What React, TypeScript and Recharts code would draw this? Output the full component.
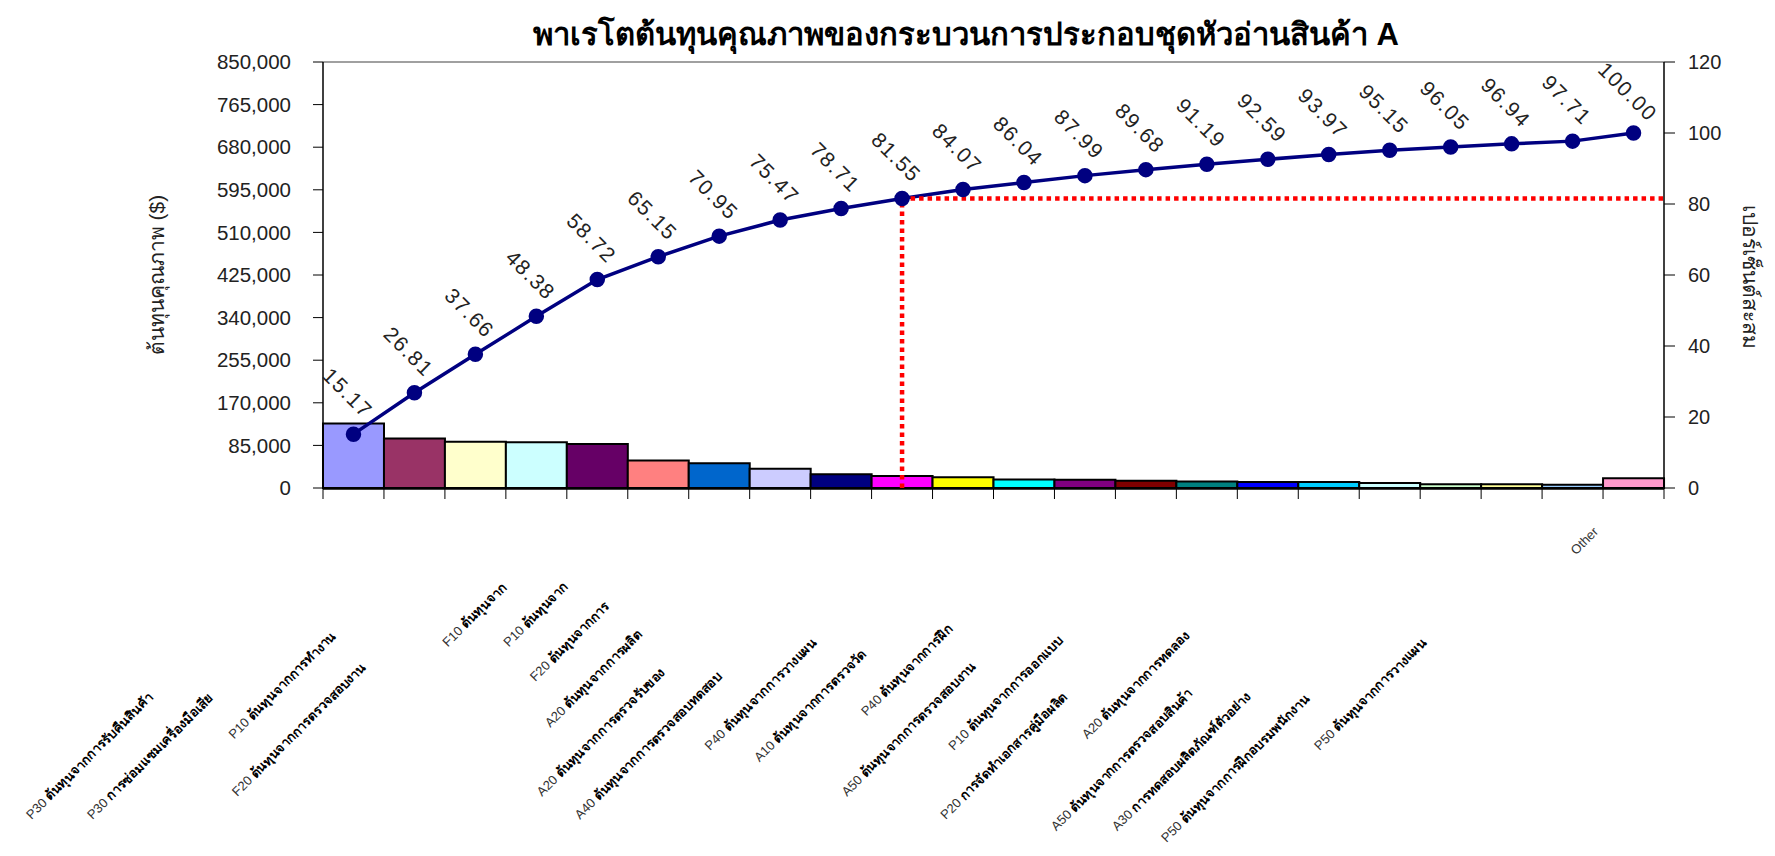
import React from "react";
import { ComposedChart, Bar, Line, XAxis, YAxis, Cell, LabelList, ReferenceLine } from "recharts";

// Cost items, sorted by cost (Pareto order)
const categories = [
  "P30 ต้นทุนจากการรับคืนสินค้า",
  "P30 การซ่อมแซมเครื่องมือเสีย",
  "P10 ต้นทุนจากการทำงาน",
  "F20 ต้นทุนจากการตรวจสอบงาน",
  "F10 ต้นทุนจาก",
  "P10 ต้นทุนจาก",
  "F20 ต้นทุนจากการ",
  "A20 ต้นทุนจากการผลิต",
  "A20 ต้นทุนจากการตรวจรับของ",
  "A40 ต้นทุนจากการตรวจสอบทดสอบ",
  "P40 ต้นทุนจากการวางแผน",
  "A10 ต้นทุนจากการตรวจวัด",
  "P40 ต้นทุนจากการฝึก",
  "A50 ต้นทุนจากการตรวจสอบงาน",
  "P10 ต้นทุนจากการออกแบบ",
  "P20 การจัดทำเอกสารคู่มือผลิต",
  "A20 ต้นทุนจากการทดลอง",
  "A50 ต้นทุนจากการตรวจสอบสินค้า",
  "A30 การทดสอบผลิตภัณฑ์ตัวอย่าง",
  "P50 ต้นทุนจากการฝึกอบรมพนักงาน",
  "P50 ต้นทุนจากการวางแผน",
  "Other",
];

const costs = [
  128945, 98940, 92225, 91120, 87890, 54655, 49300, 38420, 27540, 24140, 21420,
  16745, 16575, 14365, 12835, 11900, 11730, 10030, 7650, 7565, 6545, 19465,
];

const cumPercent = [
  15.17, 26.81, 37.66, 48.38, 58.72, 65.15, 70.95, 75.47, 78.71, 81.55, 84.07,
  86.04, 87.99, 89.68, 91.19, 92.59, 93.97, 95.15, 96.05, 96.94, 97.71, 100.0,
];

const barColors = [
  "#9999FF", "#993366", "#FFFFCC", "#CCFFFF", "#660066", "#FF8080", "#0066CC",
  "#CCCCFF", "#000080", "#FF00FF", "#FFFF00", "#00FFFF", "#800080", "#800000",
  "#008080", "#0000FF", "#00CCFF", "#CCFFFF", "#CCFFCC", "#FFFF99", "#99CCFF",
  "#FF99CC",
];

const leftTicks = [0, 85000, 170000, 255000, 340000, 425000, 510000, 595000, 680000, 765000, 850000];
const rightTicks = [0, 20, 40, 60, 80, 100, 120];

const title = "พาเรโตต้นทุนคุณภาพของกระบวนการประกอบชุดหัวอ่านสินค้า A";
const leftTitle = "ต้นทุนคุณภาพ ($)";
const rightTitle = "เปอร์เซ็นต์สะสม";

// the 80% cut-off is drawn at the 10th item
const cutoffIndex = 9;

// pos = bar centre on a plain numeric scale (used for the boundary ticks and the cut-off lines)
const data = categories.map((name, i) => ({ name, pos: i + 0.5, cost: costs[i], pct: cumPercent[i] }));
const boundaryTicks = categories.map((_, i) => i).concat(categories.length);

const W = 1759;
const H = 840;
const FONT = "'Liberation Sans', Arial, 'Noto Sans', sans-serif";

const fmt = (v: number) => v.toLocaleString("en-US");

// Excel pushes rotated labels out by their (over-)measured length
function CategoryTick(props: any) {
  const { x, y, payload } = props;
  const text = String(payload.value);
  const sp = text.indexOf(" ");
  const code = sp > 0 ? text.slice(0, sp) : text;
  const rest = sp > 0 ? text.slice(sp) : "";
  const d = text.length * 11.5;
  const sx = x - d;
  const sy = y + d;
  return (
    <text
      x={sx}
      y={sy}
      transform={`rotate(-45 ${sx} ${sy})`}
      fontSize={13}
      fill="#000"
      fontFamily={FONT}
    >
      <tspan fill="#333">{code}</tspan>
      <tspan fontWeight="bold">{rest}</tspan>
    </text>
  );
}

function PctLabel(props: any) {
  const { x, y, value } = props;
  const lx = x - 7;
  const ly = y - 40;
  return (
    <text
      x={lx}
      y={ly}
      transform={`rotate(45 ${lx} ${ly})`}
      textAnchor="middle"
      dominantBaseline="middle"
      fontSize={21}
      letterSpacing={1.5}
      fill="#222"
      fontFamily={FONT}
    >
      {Number(value).toFixed(2)}
    </text>
  );
}

export default function App() {
  return (
    <div style={{ position: "relative", width: W, height: H, fontFamily: FONT }}>
      <ComposedChart
        width={W}
        height={H}
        data={data}
        barCategoryGap={0}
        margin={{ top: 54, right: 43, bottom: 349, left: 215 }}
      >
        <XAxis
          dataKey="name"
          interval={0}
          height={1}
          axisLine={false}
          tickLine={false}
          tickSize={0}
          tickMargin={10}
          tick={<CategoryTick />}
        />
        <XAxis
          xAxisId="num"
          dataKey="pos"
          type="number"
          domain={[0, categories.length]}
          allowDataOverflow
          ticks={boundaryTicks}
          tick={() => <g />}
          tickSize={10}
          height={10}
          axisLine={{ stroke: "#000", strokeWidth: 1.5 }}
          tickLine={{ stroke: "#000" }}
        />
        <YAxis
          yAxisId="left"
          domain={[0, 850000]}
          ticks={leftTicks}
          tickFormatter={fmt}
          width={100}
          tickSize={10}
          tickMargin={22}
          axisLine={{ stroke: "#000", strokeWidth: 1.5 }}
          tickLine={{ stroke: "#000" }}
          tick={{ fontSize: 20.5, fill: "#222", fontFamily: FONT }}
        />
        <YAxis
          yAxisId="right"
          orientation="right"
          domain={[0, 120]}
          ticks={rightTicks}
          width={60}
          tickSize={11}
          tickMargin={13}
          axisLine={{ stroke: "#000", strokeWidth: 1.5 }}
          tickLine={{ stroke: "#000" }}
          tick={{ fontSize: 20, fill: "#222", fontFamily: FONT }}
        />
        <ReferenceLine yAxisId="left" y={850000} stroke="#808080" strokeWidth={1.5} />
        <Bar dataKey="cost" yAxisId="left" stroke="#000" strokeWidth={2} isAnimationActive={false}>
          {data.map((_, i) => (
            <Cell key={i} fill={barColors[i]} />
          ))}
        </Bar>
        <Line
          dataKey="pct"
          yAxisId="right"
          stroke="#000080"
          strokeWidth={3.5}
          dot={{ r: 6, fill: "#000080", stroke: "#000080" }}
          isAnimationActive={false}
        >
          <LabelList dataKey="pct" content={<PctLabel />} />
        </Line>
        <ReferenceLine
          xAxisId="num"
          yAxisId="right"
          ifOverflow="visible"
          segment={[
            { x: data[cutoffIndex].pos, y: 0 },
            { x: data[cutoffIndex].pos, y: cumPercent[cutoffIndex] },
          ]}
          stroke="#FF0000"
          strokeWidth={4.5}
          strokeDasharray="4.5 4"
        />
        <ReferenceLine
          xAxisId="num"
          yAxisId="right"
          ifOverflow="visible"
          segment={[
            { x: data[cutoffIndex].pos, y: cumPercent[cutoffIndex] },
            { x: categories.length, y: cumPercent[cutoffIndex] },
          ]}
          stroke="#FF0000"
          strokeWidth={4.5}
          strokeDasharray="4.5 4"
        />
      </ComposedChart>
      <svg
        width={W}
        height={H}
        style={{ position: "absolute", left: 0, top: 0, pointerEvents: "none" }}
      >
        <text x={958} y={37} textAnchor="middle" fontSize={31} fontWeight="bold" fill="#000" fontFamily={FONT}>
          {title}
        </text>
        <text
          x={150}
          y={267}
          transform="rotate(-90 150 267)"
          textAnchor="middle"
          dominantBaseline="middle"
          fontSize={21}
          fill="#222"
          fontFamily={FONT}
        >
          {leftTitle}
        </text>
        <text
          x={1741}
          y={269}
          transform="rotate(90 1741 269)"
          textAnchor="middle"
          dominantBaseline="middle"
          fontSize={21}
          fill="#222"
          fontFamily={FONT}
        >
          {rightTitle}
        </text>
      </svg>
    </div>
  );
}
